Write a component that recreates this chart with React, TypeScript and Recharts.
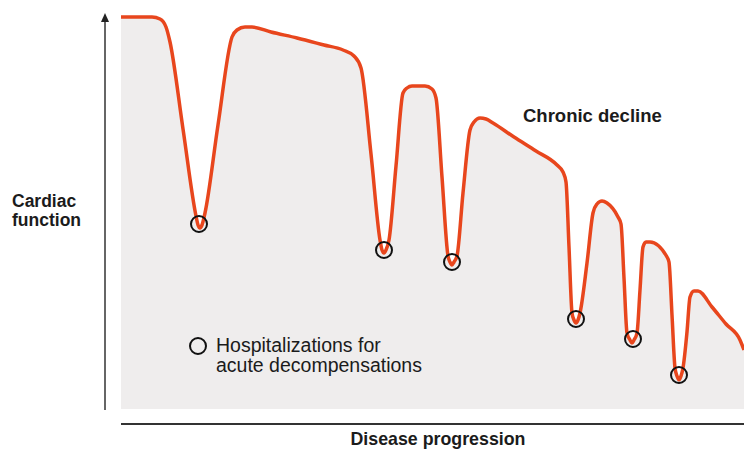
import { Area, ComposedChart, ReferenceDot, XAxis, YAxis } from 'recharts'

// x: progress along the disease course, y: cardiac function (arbitrary units)
const progression = [
  0, 31, 39, 45, 49, 62, 75, 77, 79, 81, 84, 97, 111, 116, 124, 131, 150, 176,
  203, 222, 233, 240, 250, 259, 261, 263, 265, 268, 275, 282, 286, 291, 304,
  311, 315, 321, 327, 329, 331, 333, 336, 342, 349, 353, 359, 365, 372, 393,
  415, 436, 442, 445, 448, 451, 453, 455, 457, 459, 466, 472, 476, 481, 486,
  497, 500, 503, 506, 509, 511, 513, 516, 519, 522, 525, 529, 546, 548, 551,
  554, 556, 558, 560, 562, 566, 569, 573, 577, 591, 605, 619, 623,
]
const cardiacFunction = [
  392, 392, 390, 382, 367, 280, 193, 184, 181, 184, 196, 284, 372, 379, 382,
  382, 377, 371, 364, 359, 353, 341, 255, 169, 159, 156, 159, 169, 243, 316,
  321, 323, 323, 320, 311, 232, 153, 147, 144, 147, 153, 216, 279, 287, 291,
  290, 286, 272, 258, 244, 237, 227, 162, 96, 89, 86, 89, 96, 146, 196, 205,
  208, 206, 192, 185, 131, 76, 69, 66, 69, 76, 119, 162, 167, 167, 152, 147,
  94, 41, 33, 29, 33, 41, 77, 112, 118, 118, 102, 85, 69, 59,
]

// acute decompensation events
const hospitalizationX = [78, 263, 331, 455, 512, 558]
const hospitalizationY = [185, 159, 147, 90, 70, 34]

const data = progression.map((x, i) => ({ x, y: cardiacFunction[i] }))

const FONT = '"Liberation Sans", Arial, sans-serif'
const INK = '#1b1b1b'

export default function App() {
  return (
    <div
      style={{
        position: 'absolute',
        left: 0,
        top: 0,
        width: 744,
        height: 449,
        background: '#fff',
      }}
    >
      <ComposedChart
        width={744}
        height={449}
        data={data}
        margin={{ top: 0, right: 0, bottom: 40, left: 121 }}
      >
        <XAxis dataKey="x" type="number" domain={[0, 623]} hide />
        <YAxis type="number" domain={[0, 409]} hide />
        <Area
          type="monotone"
          dataKey="y"
          stroke="#e8461d"
          strokeWidth={3.5}
          fill="#efeded"
          fillOpacity={1}
          isAnimationActive={false}
        />
        {hospitalizationX.map((x, i) => (
          <ReferenceDot
            key={x}
            x={x}
            y={hospitalizationY[i]}
            r={8}
            fill="none"
            stroke="#111"
            strokeWidth={2}
            ifOverflow="visible"
          />
        ))}
      </ComposedChart>

      <svg
        width={744}
        height={449}
        style={{ position: 'absolute', left: 0, top: 0, pointerEvents: 'none' }}
        fontFamily={FONT}
        fill={INK}
      >
        <line x1={105} y1={410} x2={105} y2={20} stroke="#333" strokeWidth={1.5} />
        <path d="M105 13 L101 22 L109 22 Z" fill="#222" />
        <line x1={121} y1={424} x2={744} y2={424} stroke="#333" strokeWidth={2} />

        <text x={12} y={207} fontSize={17.5} fontWeight={700}>Cardiac</text>
        <text x={12} y={226} fontSize={17.5} fontWeight={700}>function</text>

        <text x={523} y={122} fontSize={18.5} fontWeight={700}>Chronic decline</text>

        <circle cx={198} cy={346} r={8} fill="none" stroke="#111" strokeWidth={2} />
        <text x={216} y={352} fontSize={19.5}>Hospitalizations for</text>
        <text x={216} y={372} fontSize={19.5}>acute decompensations</text>

        <text x={438} y={445} fontSize={17.8} fontWeight={700} textAnchor="middle">
          Disease progression
        </text>
      </svg>
    </div>
  )
}
